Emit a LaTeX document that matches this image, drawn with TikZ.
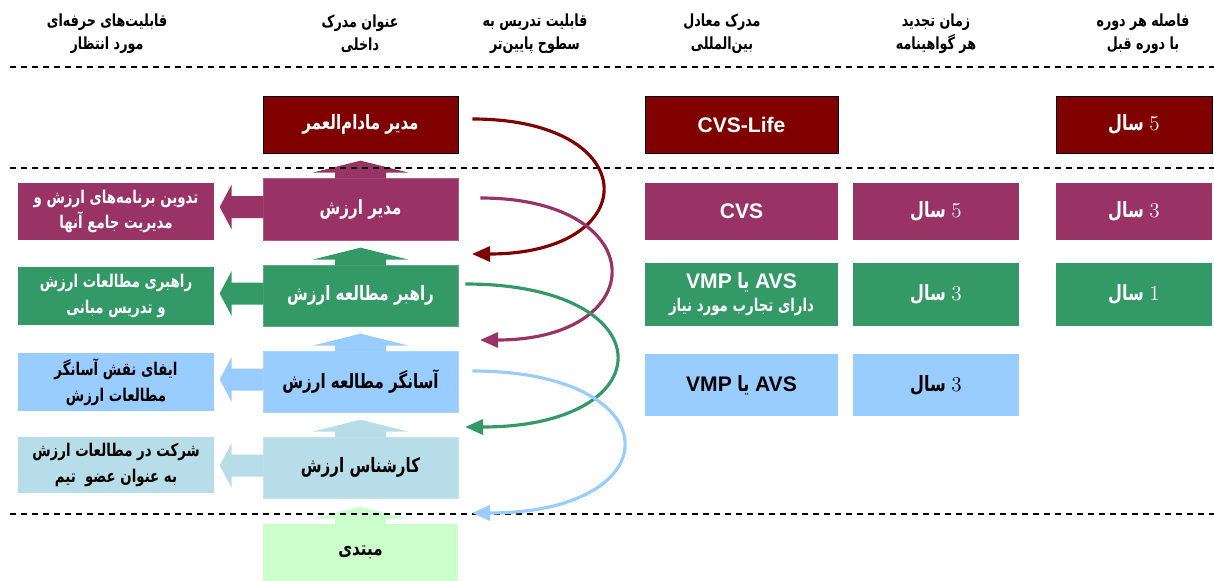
\documentclass[tikz,border=0pt]{standalone}
\usepackage{fontspec}
\usepackage{xcolor}
\usepackage{tikz}
\usetikzlibrary{arrows.meta,calc}

\newfontfamily\farsi[Script=Arabic,FakeStretch=0.76]{DejaVu Sans}
\newfontfamily\latinsans{Liberation Sans}
\TeXXeTstate=1

\definecolor{lifered}{HTML}{800000}
\definecolor{mgrpurple}{HTML}{993366}
\definecolor{leadgreen}{HTML}{339966}
\definecolor{facblue}{HTML}{99CCFF}
\definecolor{expteal}{HTML}{B7DEE8}
\definecolor{begingreen}{HTML}{CCFFCC}

\newcommand{\fatxt}[1]{\beginR #1\endR}
\newcommand{\num}[1]{{\normalfont\mdseries #1}}
\newcommand{\lat}[1]{{\latinsans\bfseries #1}}

% block arrow on top of a level box
\newcommand{\upblock}[2]{%
  \fill[#2, shift={(#1.north)}] (-25.5,1) -- (-25.5,-5) -- (-48,-5) -- (0,-17)
    -- (48,-5) -- (25.5,-5) -- (25.5,1) -- cycle;}
% block arrow from a level box to its competency
\newcommand{\leftblock}[2]{%
  \fill[#2, shift={(#1.west)}] (1,-13) -- (-31,-13) -- (-31,-24.5) -- (-43,-2)
    -- (-31,20.5) -- (-31,9) -- (1,9) -- cycle;}

\begin{document}
\begin{tikzpicture}[x=0.02cm, y=-0.02cm,
    levelbox/.style={rectangle, inner sep=0pt, minimum width=3.9cm, align=center,
      font=\farsi\bfseries\fontsize{11.3}{14}\selectfont},
    skillbox/.style={rectangle, inner sep=0pt, minimum width=3.92cm, align=center,
      font=\farsi\bfseries\fontsize{10}{15}\selectfont},
    certbox/.style={rectangle, inner sep=0pt, align=center,
      font=\farsi\bfseries\fontsize{12}{14}\selectfont},
    header/.style={align=center, font=\farsi\bfseries\fontsize{9.5}{13}\selectfont},
    sepline/.style={dashed, dash pattern=on 0.13cm off 0.09cm, line width=0.8pt},
    teacharrow/.style={line width=1.8pt, -{Triangle[length=0.36cm,width=0.3cm]}}]
  \useasboundingbox (0,0) rectangle (1214,581);

  % Headers
  \node[header] (hskill) at (107,34) {\fatxt{قابلیت‌های حرفه‌ای}\\\fatxt{مورد انتظار}};
  \node[header] (htitle) at (360,34) {\fatxt{عنوان مدرک}\\\fatxt{داخلی}};
  \node[header] (hteach) at (535,34) {\fatxt{قابلیت تدریس به}\\\fatxt{سطوح پایین‌تر}};
  \node[header] (hequiv) at (722,34) {\fatxt{مدرک معادل}\\\fatxt{بین‌المللی}};
  \node[header] (hrenew) at (936,34) {\fatxt{زمان تجدید}\\\fatxt{هر گواهینامه}};
  \node[header] (hgap) at (1143,34) {\fatxt{فاصله هر دوره}\\\fatxt{با دوره قبل}};

  % Internal levels
  \node[levelbox, fill=lifered, draw=black, text=white, minimum height=1.14cm] (lifemgr) at (360.5,124.5) {\fatxt{مدیر مادام‌العمر}};
  \node[levelbox, fill=mgrpurple, draw=mgrpurple!80!white, text=white, minimum height=1.24cm] (mgr) at (360.5,209) {\fatxt{مدیر ارزش}};
  \node[levelbox, fill=leadgreen, draw=leadgreen!80!white, text=white, minimum height=1.22cm] (lead) at (360.5,295.5) {\fatxt{راهبر مطالعه ارزش}};
  \node[levelbox, fill=facblue, draw=facblue!80!white, text=black, minimum height=1.22cm] (fac) at (360.5,381.5) {\fatxt{آسانگر مطالعه ارزش}};
  \node[levelbox, fill=expteal, draw=expteal!80!white, text=black, minimum height=1.22cm] (expert) at (360.5,467.5) {\fatxt{کارشناس ارزش}};
  \node[levelbox, fill=begingreen, text=black, minimum height=1.14cm] (novice) at (360.5,552.5) {\fatxt{مبتدی}};

  \upblock{mgr}{mgrpurple}
  \upblock{lead}{leadgreen}
  \upblock{fac}{facblue}
  \upblock{expert}{expteal}
  \upblock{novice}{begingreen}

  % Expected competencies
  \node[skillbox, fill=mgrpurple, text=white, minimum height=1.14cm] (skmgr) at (116,211.5) {\fatxt{تدوین برنامه‌های ارزش و}\\[-1pt]\fatxt{مدیریت جامع آنها}};
  \node[skillbox, fill=leadgreen, text=white, minimum height=1.16cm] (sklead) at (116,296) {\fatxt{راهبری مطالعات ارزش}\\\fatxt{و تدریس مبانی}};
  \node[skillbox, fill=facblue, text=black, minimum height=1.16cm] (skfac) at (116,382) {\fatxt{ایفای نقش آسانگر}\\\fatxt{مطالعات ارزش}};
  \node[skillbox, fill=expteal, text=black, minimum height=1.12cm] (skexpert) at (116,465) {\fatxt{شرکت در مطالعات ارزش}\\\fatxt{به عنوان عضو\ \ تیم}};

  \leftblock{mgr}{mgrpurple}
  \leftblock{lead}{leadgreen}
  \leftblock{fac}{facblue}
  \leftblock{expert}{expteal}

  % International equivalents
  \node[certbox, fill=lifered, draw=black, text=white, minimum width=3.86cm, minimum height=1.14cm] (cvslife) at (741.5,124.5) {\lat{CVS-Life}};
  \node[certbox, fill=mgrpurple, text=white, minimum width=3.86cm, minimum height=1.14cm] (cvs) at (741.5,211.5) {\lat{CVS}};
  \node[certbox, fill=leadgreen, text=white, minimum width=3.86cm, minimum height=1.26cm] (avsexp) at (741.5,294.5) {\fatxt{\lat{AVS} یا \lat{VMP}}\\[-1pt]{\fontsize{10}{12}\selectfont\fatxt{دارای تجارب مورد نیاز}}};
  \node[certbox, fill=facblue, text=black, minimum width=3.86cm, minimum height=1.24cm] (avs) at (741.5,385) {\fatxt{\lat{AVS} یا \lat{VMP}}};

  % Renewal time
  \node[certbox, fill=mgrpurple, text=white, minimum width=3.32cm, minimum height=1.14cm] (renmgr) at (936,211.5) {\fatxt{\num{5} سال}};
  \node[certbox, fill=leadgreen, text=white, minimum width=3.32cm, minimum height=1.26cm] (renlead) at (936,294.5) {\fatxt{\num{3} سال}};
  \node[certbox, fill=facblue, text=black, minimum width=3.32cm, minimum height=1.24cm] (renfac) at (936,385) {\fatxt{\num{3} سال}};

  % Gap to previous level
  \node[certbox, fill=lifered, draw=black, text=white, minimum width=3.12cm, minimum height=1.14cm] (gaplife) at (1134,124.5) {\fatxt{\num{5} سال}};
  \node[certbox, fill=mgrpurple, text=white, minimum width=3.12cm, minimum height=1.14cm] (gapmgr) at (1134,211.5) {\fatxt{\num{3} سال}};
  \node[certbox, fill=leadgreen, text=white, minimum width=3.12cm, minimum height=1.26cm] (gaplead) at (1134,294.5) {\fatxt{\num{1} سال}};

  % Separators
  \draw[sepline] (10,67) -- (1214,67);
  \draw[sepline] (10,168) -- (1214,168);
  \draw[sepline] (10,514) -- (1214,514);

  % Teaching arrows
  \coordinate (t1) at (472,254);
  \coordinate (t2) at (480,340);
  \coordinate (t3) at (465,427);
  \coordinate (t4) at (472,513);
  \draw[teacharrow, lifered] ($(lifemgr.east)+(14,-5.5)$) .. controls +(173,0) and +(173,0) .. (t1);
  \draw[teacharrow, mgrpurple] ($(mgr.east)+(22,-11)$) .. controls +(173,0) and +(173,0) .. (t2);
  \draw[teacharrow, leadgreen] ($(lead.east)+(7,-11.5)$) .. controls +(201,0) and +(201,0) .. (t3);
  \draw[teacharrow, facblue] ($(fac.east)+(14,-10.5)$) .. controls +(201,0) and +(201,0) .. (t4);
\end{tikzpicture}
\end{document}
